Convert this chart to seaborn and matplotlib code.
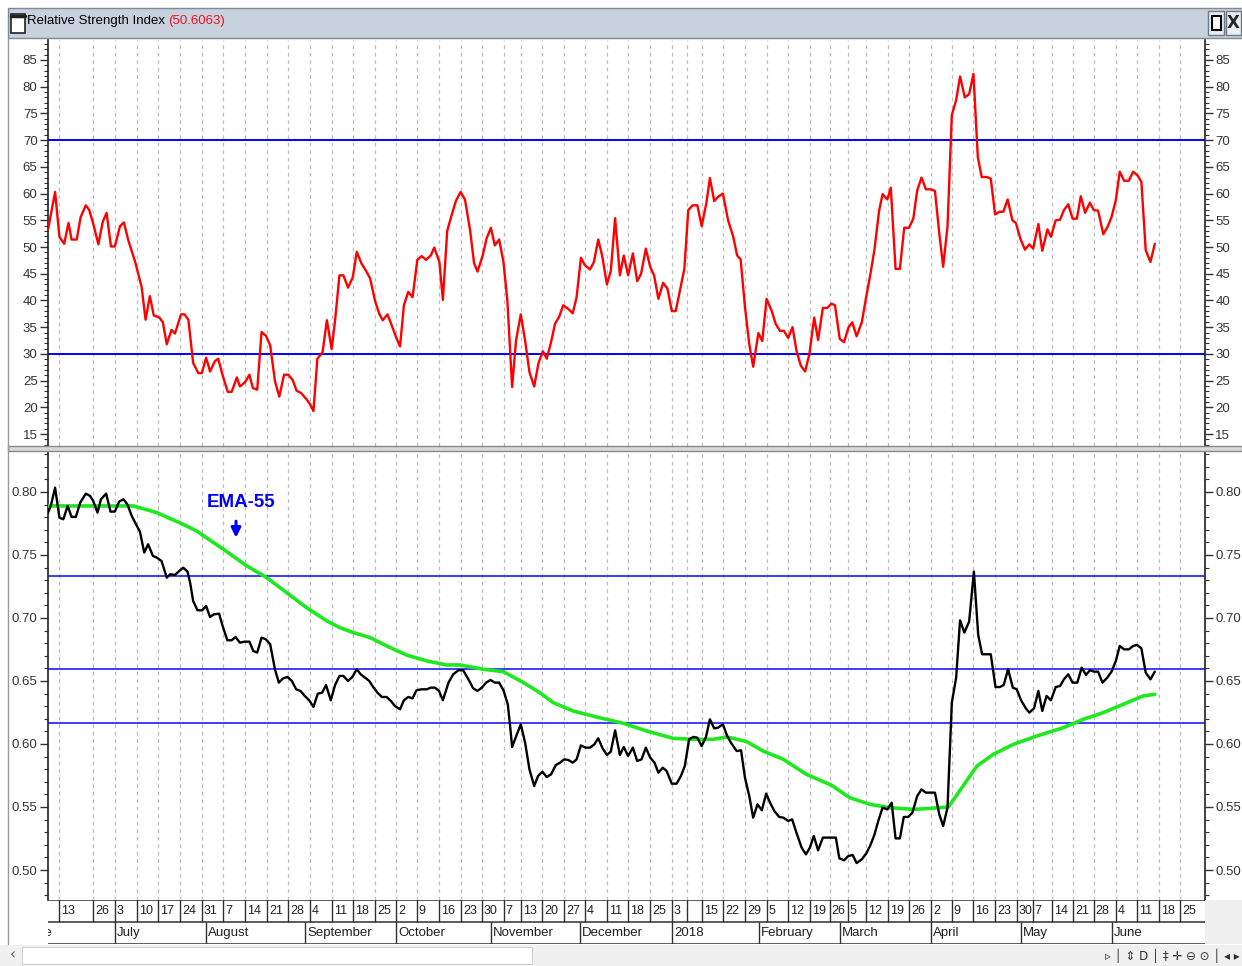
import matplotlib
matplotlib.use("Agg")
import matplotlib.pyplot as plt
from matplotlib import font_manager
from matplotlib.patches import Rectangle
from matplotlib.lines import Line2D
from matplotlib.text import Annotation
from matplotlib.ticker import MultipleLocator, FormatStrFormatter
import seaborn as sns

# RSI (top panel), x = trading day index counted from the left edge
rsi_day = [0.5, 2.1, 3.1, 4.2, 5.2, 5.9, 7.1, 8.0, 9.2, 10.0, 10.9, 12.1, 13.1, 14.0, 15.0, 15.9,
           17.1, 18.0, 19.0, 20.6, 22.1, 23.0, 24.0, 24.9, 26.2, 27.0, 27.9, 29.0, 29.8, 31.2, 32.0,
           32.9, 34.0, 35.2, 36.0, 37.0, 37.9, 39.0, 39.8, 40.8, 42.0, 42.9, 44.1, 44.8, 46.0, 47.0,
           47.8, 48.8, 49.8, 50.8, 51.8, 52.9, 53.9, 55.0, 56.0, 57.0, 57.9, 58.9, 60.1, 61.0, 61.8,
           62.7, 63.9, 64.9, 66.0, 66.8, 67.8, 68.7, 69.8, 70.9, 71.8, 72.9, 73.9, 74.9, 76.0, 77.0,
           77.8, 78.9, 79.9, 80.9, 81.8, 82.7, 83.7, 84.7, 85.8, 86.8, 87.8, 88.9, 89.7, 90.9, 91.7,
           92.7, 93.7, 94.7, 95.8, 96.8, 98.0, 98.9, 99.7, 100.9, 101.8, 102.8, 103.7, 104.7, 105.7,
           106.6, 107.7, 108.6, 109.7, 110.7, 111.7, 112.8, 113.8, 114.8, 115.7, 116.7, 117.6, 118.6,
           119.5, 120.7, 121.7, 122.6, 123.6, 124.5, 125.7, 126.6, 127.6, 128.5, 129.6, 130.5, 131.5,
           132.6, 133.5, 134.5, 135.6, 136.6, 137.5, 138.6, 139.6, 140.5, 141.5, 142.6, 143.6, 144.6,
           145.5, 146.5, 147.5, 148.4, 149.4, 150.5, 151.5, 152.6, 153.4, 154.4, 155.3, 156.4, 157.6,
           158.8, 159.7, 160.5, 161.5, 162.5, 163.4, 164.6, 165.5, 166.5, 167.7, 168.6, 169.6, 170.5,
           171.5, 172.5, 173.4, 174.4, 175.4, 176.4, 177.5, 178.4, 179.5, 180.5, 181.5, 182.3, 183.4,
           184.4, 185.4, 186.3, 187.3, 188.5, 189.5, 190.5, 191.4, 192.5, 193.3, 194.4, 195.2, 196.3,
           197.3, 198.3, 199.4, 200.4, 201.3, 202.3, 203.3, 204.4, 205.4, 206.4, 207.3, 208.3, 209.3,
           210.3, 211.2, 212.3, 213.3, 214.3, 215.3, 216.2, 217.4, 218.3, 219.3, 220.3, 221.2, 222.2,
           223.3, 224.1, 225.2, 226.2, 227.2, 228.1, 229.3, 230.2, 231.4, 232.2, 233.3, 234.3, 235.2,
           236.2, 237.2, 238.2, 239.1, 240.1, 241.2, 242.1, 243.1, 244.3, 245.3, 246.2, 247.2, 248.1,
           249.1, 250.2, 251.2, 252.2, 253.1, 254.1, 255.2, 256.2]
rsi_val = [53.4, 60.3, 51.9, 50.6, 54.5, 51.4, 51.4, 55.6, 57.8, 56.9, 54.4, 50.5, 54.7, 56.4, 50.1, 50.1,
           53.9, 54.6, 51.3, 47.2, 42.5, 36.4, 40.8, 37.2, 36.8, 35.9, 31.8, 34.5, 33.8, 37.4, 37.4,
           36.4, 28.3, 26.4, 26.4, 29.3, 26.7, 28.6, 29.1, 26.0, 22.9, 22.9, 25.6, 23.9, 24.7, 26.1,
           23.6, 23.3, 34.1, 33.4, 31.6, 24.9, 22.0, 26.1, 26.1, 25.1, 23.1, 22.7, 21.6, 20.6, 19.3,
           29.1, 30.3, 36.3, 30.9, 36.3, 44.7, 44.7, 42.4, 44.4, 49.1, 46.9, 45.6, 44.1, 40.0, 37.5,
           36.3, 37.4, 35.3, 33.1, 31.4, 39.1, 41.6, 40.6, 47.6, 48.3, 47.6, 48.4, 49.9, 47.2, 40.1,
           53.0, 55.9, 58.6, 60.3, 58.9, 53.1, 47.0, 45.4, 48.4, 51.6, 53.6, 50.3, 51.4, 47.2,
           40.0, 23.8, 32.5, 37.4, 32.5, 26.6, 23.9, 28.3, 30.5, 29.1, 32.2, 35.6, 37.0,
           39.1, 38.4, 37.6, 40.6, 48.0, 46.6, 45.8, 47.2, 51.4, 48.4, 43.0, 45.5, 55.4,
           44.7, 48.4, 44.7, 48.8, 43.6, 45.0, 49.7, 46.3, 44.7, 40.3, 43.3, 42.2, 38.0,
           38.0, 41.9, 45.9, 56.9, 57.8, 57.8, 53.9, 58.3, 62.9, 58.6, 59.4, 60.0, 55.0,
           51.9, 48.4, 47.7, 38.8, 31.8, 27.6, 33.9, 32.4, 40.3, 38.0, 35.6, 34.3, 34.3,
           33.0, 35.0, 30.6, 27.8, 26.7, 30.0, 36.8, 32.6, 38.6, 38.6, 39.4, 39.1, 32.8,
           32.2, 34.9, 35.9, 33.3, 35.9, 40.6, 45.0, 49.4, 56.8, 59.9, 58.9, 61.1, 45.9,
           45.9, 53.6, 53.6, 55.3, 60.6, 63.0, 60.8, 60.8, 60.5, 52.6, 46.3, 53.8, 74.7,
           77.5, 81.9, 78.0, 78.6, 82.4, 66.9, 63.1, 63.1, 62.8, 56.1, 56.6, 56.6, 58.9,
           55.0, 54.5, 51.4, 49.5, 50.5, 49.7, 54.3, 49.3, 53.3, 51.9, 55.0, 55.1, 56.9,
           58.0, 55.3, 55.3, 59.5, 56.4, 58.3, 56.9, 56.8, 52.4, 53.8, 55.6, 58.8, 64.1,
           62.4, 62.4, 64.1, 63.4, 62.2, 49.4, 47.2, 50.6]

# price (bottom panel, black)
price_day = [0.3, 1.1, 2.1, 3.1, 4.0, 5.0, 5.9, 6.9, 7.9, 9.2, 10.2, 10.9, 11.9, 12.7, 13.9, 14.9,
             15.9, 16.9, 17.9, 18.8, 19.8, 20.8, 21.7, 22.7, 23.6, 24.7, 25.6, 26.7, 27.9, 28.7,
             29.8, 30.8, 31.7, 32.7, 33.3, 34.0, 35.0, 36.1, 37.0, 37.9, 38.8, 40.0, 40.8, 41.9,
             42.9, 43.8, 44.8, 45.8, 47.0, 47.9, 48.8, 49.8, 50.8, 51.8, 52.9, 53.8, 54.8, 55.8,
             56.8, 57.8, 58.8, 59.8, 60.8, 61.8, 62.8, 63.8, 64.7, 65.8, 66.8, 67.8, 68.7, 69.8,
             70.8, 71.8, 72.7, 73.7, 74.7, 75.6, 76.6, 77.6, 78.7, 79.7, 80.6, 81.8, 82.7, 83.7,
             84.7, 85.6, 86.8, 88.0, 88.9, 89.9, 90.8, 91.7, 93.0, 94.1, 95.3, 96.4, 97.6, 98.7,
             99.7, 100.7, 101.7, 102.7, 103.7, 104.7, 105.7, 106.7, 107.2, 107.7, 108.8, 109.7,
             110.7, 111.7, 112.8, 113.7, 114.7, 115.7, 116.7, 117.8, 118.8, 119.7, 120.7, 121.7,
             122.6, 123.6, 124.7, 125.7, 126.7, 127.6, 128.6, 129.6, 130.5, 131.5, 132.6, 133.5,
             134.5, 135.6, 136.6, 137.6, 138.6, 139.6, 140.6, 141.5, 142.5, 143.4, 144.6, 145.7,
             146.7, 147.6, 148.6, 149.6, 150.5, 151.5, 152.5, 153.4, 154.4, 155.3, 156.4, 157.4,
             158.4, 159.6, 160.6, 161.5, 162.5, 163.4, 164.4, 165.4, 166.4, 167.3, 168.3, 169.4,
             170.4, 171.5, 172.4, 173.4, 174.6, 175.6, 176.5, 177.4, 178.4, 179.5, 180.4, 181.3,
             182.5, 183.3, 184.4, 185.4, 186.4, 187.3, 188.5, 189.5, 190.4, 191.4, 192.3, 193.3,
             194.4, 195.4, 196.3, 197.3, 198.2, 199.2, 200.2, 201.3, 202.3, 203.3, 204.4, 205.4,
             206.4, 207.3, 208.3, 209.3, 210.3, 211.2, 212.2, 213.3, 214.4, 215.4, 216.3, 217.3,
             218.3, 219.4, 220.4, 221.3, 222.3, 223.4, 224.3, 225.3, 226.4, 227.2, 228.3, 229.3,
             230.2, 231.2, 232.2, 233.3, 234.3, 235.2, 236.2, 237.2, 238.3, 239.3, 240.3, 241.2,
             242.2, 243.1, 244.1, 245.2, 246.2, 247.2, 248.1, 249.1, 250.2, 251.2, 252.1, 253.1,
             254.1, 255.2, 256.2]
price_val = [0.7823, 0.7889, 0.8034, 0.7796, 0.7783, 0.7889, 0.7802, 0.7802, 0.7915, 0.7987, 0.7968,
             0.7929, 0.7836, 0.7942, 0.7987, 0.7844, 0.7844, 0.7923, 0.7942, 0.7902, 0.7810, 0.7743,
             0.7685, 0.7519, 0.7585, 0.7492, 0.7479, 0.7452, 0.7320, 0.7347, 0.7341, 0.7373, 0.7399,
             0.7368, 0.7280, 0.7135, 0.7061, 0.7061, 0.7095, 0.7008, 0.7029, 0.7034, 0.6937, 0.6823,
             0.6823, 0.6849, 0.6804, 0.6812, 0.6812, 0.6738, 0.6725, 0.6844, 0.6831, 0.6791, 0.6593,
             0.6487, 0.6521, 0.6532, 0.6500, 0.6434, 0.6421, 0.6381, 0.6347, 0.6294, 0.6399, 0.6407,
             0.6468, 0.6347, 0.6468, 0.6540, 0.6540, 0.6500, 0.6532, 0.6593, 0.6553, 0.6526, 0.6500,
             0.6452, 0.6407, 0.6373, 0.6373, 0.6341, 0.6302, 0.6275, 0.6347, 0.6373, 0.6362, 0.6426,
             0.6434, 0.6434, 0.6447, 0.6447, 0.6421, 0.6347, 0.6487, 0.6553, 0.6585, 0.6585, 0.6513,
             0.6442, 0.6421, 0.6447, 0.6487, 0.6508, 0.6487, 0.6487, 0.6426, 0.6315, 0.6156, 0.5976,
             0.6077, 0.6156, 0.6011, 0.5799, 0.5667, 0.5746, 0.5780, 0.5738, 0.5759, 0.5833, 0.5852,
             0.5878, 0.5873, 0.5852, 0.5878, 0.5989, 0.5971, 0.5971, 0.5997, 0.6045, 0.5966, 0.5913,
             0.5939, 0.6108, 0.5913, 0.5976, 0.5905, 0.5971, 0.5865, 0.5878, 0.5971, 0.5892, 0.5852,
             0.5772, 0.5812, 0.5786, 0.5685, 0.5685, 0.5746, 0.5825, 0.6037, 0.6056, 0.6050, 0.5984,
             0.6056, 0.6196, 0.6124, 0.6130, 0.6156, 0.6063, 0.6003, 0.5944, 0.5950, 0.5733, 0.5587,
             0.5415, 0.5521, 0.5474, 0.5606, 0.5534, 0.5468, 0.5421, 0.5415, 0.5389, 0.5402, 0.5296,
             0.5177, 0.5124, 0.5177, 0.5270, 0.5156, 0.5257, 0.5257, 0.5257, 0.5257, 0.5093, 0.5077,
             0.5111, 0.5119, 0.5055, 0.5085, 0.5130, 0.5190, 0.5278, 0.5389, 0.5495, 0.5481, 0.5534,
             0.5251, 0.5251, 0.5421, 0.5421, 0.5455, 0.5587, 0.5640, 0.5614, 0.5614, 0.5614, 0.5442,
             0.5349, 0.5495, 0.6328, 0.6526, 0.6981, 0.6884, 0.6971, 0.7368, 0.6865, 0.6712, 0.6712,
             0.6712, 0.6452, 0.6452, 0.6468, 0.6593, 0.6447, 0.6434, 0.6347, 0.6283, 0.6249, 0.6283,
             0.6421, 0.6262, 0.6381, 0.6347, 0.6452, 0.6460, 0.6513, 0.6553, 0.6487, 0.6487, 0.6606,
             0.6548, 0.6585, 0.6574, 0.6574, 0.6487, 0.6526, 0.6574, 0.6659, 0.6778, 0.6751, 0.6751,
             0.6778, 0.6786, 0.6759, 0.6566, 0.6513, 0.6574]

# EMA-55 (green)
ema_day = [0.3, 6.3, 14.0, 20.2, 25.6, 31.7, 34.8, 41.0, 46.4, 51.0, 55.6, 60.2, 64.9, 67.9, 71.0,
           74.9, 79.5, 83.3, 88.0, 92.6, 95.7, 101.0, 105.7, 110.3, 114.1, 117.2, 121.8, 127.2,
           133.4, 138.8, 144.9, 149.6, 154.2, 157.3, 161.9, 165.7, 170.4, 175.7, 181.5, 185.7,
           190.4, 195.0, 200.4, 204.3, 208.5, 211.9, 215.1, 218.9, 223.5, 228.9, 235.1, 239.7,
           244.3, 248.9, 253.5, 256.2]
ema_val = [0.7889, 0.7889, 0.7889, 0.7889, 0.7836, 0.7743, 0.7690, 0.7545, 0.7413, 0.7320, 0.7201,
           0.7082, 0.6976, 0.6923, 0.6884, 0.6844, 0.6765, 0.6706, 0.6659, 0.6627, 0.6627, 0.6593,
           0.6574, 0.6487, 0.6407, 0.6328, 0.6262, 0.6214, 0.6164, 0.6103, 0.6045, 0.6037, 0.6037,
           0.6056, 0.6019, 0.5944, 0.5878, 0.5759, 0.5673, 0.5574, 0.5521, 0.5495, 0.5481, 0.5489,
           0.5500, 0.5667, 0.5825, 0.5918, 0.5997, 0.6063, 0.6130, 0.6196, 0.6249, 0.6315, 0.6381,
           0.6394]

rsi_levels = [70, 30]
price_levels = [0.7333, 0.6598, 0.6164]
rsi_last = "(50.6063)"

week_pos = [3.0, 10.9, 15.9, 21.0, 25.9, 31.0, 36.0, 40.9, 46.0, 51.1, 55.9, 61.0, 66.1, 70.9, 76.0,
            80.9, 85.7, 90.8, 95.9, 100.7, 105.8, 109.7, 114.6, 119.7, 124.5, 129.6, 134.5, 139.6,
            144.6, 148.1, 151.6, 156.4, 161.5, 166.6, 171.4, 176.5, 181.1, 185.3, 189.5, 194.5,
            199.4, 204.5, 209.3, 214.2, 219.3, 224.3, 228.0, 232.4, 237.3, 242.1, 247.2, 252.1,
            257.2, 262.0]
week_lbl = ["13", "26", "3", "10", "17", "24", "31", "7", "14", "21", "28", "4", "11", "18", "25",
            "2", "9", "16", "23", "30", "7", "13", "20", "27", "4", "11", "18", "25",
            "3", "", "15", "22", "29", "5", "12", "19", "26", "5", "12", "19", "26",
            "2", "9", "16", "23", "30", "7", "14", "21", "28", "4", "11", "18", "25"]
month_pos = [15.9, 37.0, 59.8, 80.9, 102.8, 123.4, 144.6, 164.7, 183.5, 204.5, 225.3, 246.3]
month_lbl = ["July", "August", "September", "October", "November", "December", "2018",
             "February", "March", "April", "May", "June"]

sns.set_theme(style="white")

installed = {f.name for f in font_manager.fontManager.ttflist}
narrow = "Liberation Sans Narrow" if "Liberation Sans Narrow" in installed else "Liberation Sans"
plt.rcParams["font.family"] = [narrow, "DejaVu Sans"]
plt.rcParams["axes.unicode_minus"] = False

W, H = 1242, 966


def fx(px):
    return px / W


def fy(py):
    return 1 - py / H


fig = plt.figure(figsize=(W / 100, H / 100), dpi=100)
fig.patch.set_facecolor("white")

x_lim = (0.46, 267.8)
left, right = 48, 1205

ax_rsi = fig.add_axes([fx(left), fy(446), (right - left) / W, (446 - 40) / H])
ax_px = fig.add_axes([fx(left), fy(900), (right - left) / W, (900 - 452) / H])
ax_dt = fig.add_axes([fx(left), fy(944), (right - left) / W, (944 - 900) / H])

tick_color = "#333333"
for ax in (ax_rsi, ax_px):
    ax.set_facecolor("white")
    ax.set_xlim(*x_lim)
    for s in ("top", "bottom"):
        ax.spines[s].set_visible(False)
    for s in ("left", "right"):
        ax.spines[s].set_color("#202020")
        ax.spines[s].set_linewidth(1.2)
    ax.tick_params(axis="x", bottom=False, labelbottom=False)
    ax.tick_params(axis="y", which="both", left=True, right=True, labelleft=True,
                   labelright=True, direction="out", colors=tick_color, labelsize=9.5)
    ax.tick_params(axis="y", which="major", length=6, width=1, pad=1.5)
    ax.tick_params(axis="y", which="minor", length=3, width=0.8)
    for d in week_pos:
        ax.axvline(d, color="#bdbdbd", lw=0.9, ls=(0, (3, 3)), zorder=0)

# top panel: RSI
ax_rsi.set_ylim(12.76, 88.74)
ax_rsi.set_yticks(range(15, 90, 5))
ax_rsi.yaxis.set_minor_locator(MultipleLocator(1))
for lv in rsi_levels:
    ax_rsi.axhline(lv, color="#0000ff", lw=1.4, zorder=2)
sns.lineplot(x=rsi_day, y=rsi_val, ax=ax_rsi, color="#ff0000", lw=1.7,
             estimator=None, sort=False, zorder=3)

# bottom panel: price + EMA-55
ax_px.set_ylim(0.4762, 0.8317)
ax_px.set_yticks([0.50, 0.55, 0.60, 0.65, 0.70, 0.75, 0.80])
ax_px.yaxis.set_minor_locator(MultipleLocator(0.01))
ax_px.yaxis.set_major_formatter(FormatStrFormatter("%.2f"))
for lv in price_levels:
    ax_px.axhline(lv, color="#3b3bff", lw=1.4, zorder=2)
sns.lineplot(x=ema_day, y=ema_val, ax=ax_px, color="#1ee81e", lw=2.6,
             estimator=None, sort=False, zorder=3)
sns.lineplot(x=price_day, y=price_val, ax=ax_px, color="black", lw=1.7,
             estimator=None, sort=False, zorder=4)
ax_px.text(45.1, 0.7917, "EMA-55", color="#0000ff", fontsize=13.5, fontweight="bold",
           ha="center", va="center", zorder=5)
ax_px.annotate("", xy=(43.9, 0.7615), xytext=(43.9, 0.7790),
               arrowprops=dict(arrowstyle="-|>", color="#0000ff", lw=2.2, mutation_scale=14))

for ax in (ax_rsi, ax_px):
    ax.set_xlabel("")
    ax.set_ylabel("")

# date axis (two rows: week days, months)
ax_dt.set_xlim(*x_lim)
ax_dt.set_ylim(0, 2)
ax_dt.axis("off")
for yv in (0, 1, 2):
    ax_dt.axhline(yv, color="#303030", lw=1.1)
ax_dt.vlines(week_pos, 1, 2, color="#303030", lw=1.0)
ax_dt.vlines(month_pos, 0, 1, color="#303030", lw=1.0)
for d, lbl in zip(week_pos, week_lbl):
    ax_dt.text(d + 0.45, 1.5, lbl, ha="left", va="center", fontsize=9, color="#202020")
for d, lbl in zip(month_pos, month_lbl):
    ax_dt.text(d + 0.5, 0.5, lbl, ha="left", va="center", fontsize=9.5, color="#202020")
ax_dt.text(1.6, 0.5, "June", ha="right", va="center", fontsize=9.5, color="#202020",
           clip_on=True)

# window chrome: title bar, panel separator, borders, scroll strip
fig.patches.append(Rectangle((fx(8), fy(38)), fx(1242 - 8), 30 / H, transform=fig.transFigure,
                             facecolor="#c7d2de", edgecolor="#7f8a96", lw=1))
fig.patches.append(Rectangle((fx(11), fy(33)), fx(14), 19 / H, transform=fig.transFigure,
                             facecolor="white", edgecolor="#202020", lw=1.2))
fig.lines.append(Line2D([fx(11), fx(25)], [fy(16), fy(16)], transform=fig.transFigure,
                        color="#202020", lw=2.5))
t1 = fig.text(fx(27), fy(21), "Relative Strength Index", fontsize=9.5, color="black",
              ha="left", va="center")
fig.add_artist(Annotation(rsi_last, xy=(1, 0.5), xycoords=t1, xytext=(2, 0),
                          textcoords="offset points", ha="left", va="center",
                          fontsize=9.5, color="#e8141e", annotation_clip=False))
fig.patches.append(Rectangle((fx(1208), fy(35)), fx(16), 24 / H, transform=fig.transFigure,
                             facecolor="#e9eef3", edgecolor="#6d7884", lw=1))
fig.patches.append(Rectangle((fx(1212), fy(30)), fx(9), 14 / H, transform=fig.transFigure,
                             facecolor="white", edgecolor="black", lw=1.5))
fig.patches.append(Rectangle((fx(1226), fy(35)), fx(15), 24 / H, transform=fig.transFigure,
                             facecolor="#e9eef3", edgecolor="#6d7884", lw=1))
fig.text(fx(1233.5), fy(23), "X", fontsize=12, fontweight="bold", ha="center", va="center",
         family="DejaVu Sans")

fig.patches.append(Rectangle((fx(8), fy(451)), fx(1242 - 8), 5 / H, transform=fig.transFigure,
                             facecolor="#d9d9d9", edgecolor="#8a8a8a", lw=1))
fig.lines.append(Line2D([fx(8), fx(8)], [fy(38), fy(944)], transform=fig.transFigure,
                        color="#9a9a9a", lw=1))
fig.patches.append(Rectangle((fx(1205), fy(944)), fx(37), 44 / H, transform=fig.transFigure,
                             facecolor="#f0f0f0", edgecolor="none"))
fig.patches.append(Rectangle((0, 0), 1, 21 / H, transform=fig.transFigure,
                             facecolor="#f0f0f0", edgecolor="none"))
fig.patches.append(Rectangle((fx(22), fy(964)), fx(510), 17 / H, transform=fig.transFigure,
                             facecolor="white", edgecolor="#d0d0d0", lw=0.8))
fig.text(fx(13), fy(955), "‹", fontsize=11, color="#606060", ha="center", va="center",
         family="DejaVu Sans")
fig.text(fx(1172), fy(956), "▹ │ ⇕ D │ ‡ ✛ ⊖ ⊙ │ ◂ ▸", fontsize=8.5, color="#303030",
         ha="center", va="center", family="DejaVu Sans")

fig.savefig("out.png", dpi=100, facecolor="white")
